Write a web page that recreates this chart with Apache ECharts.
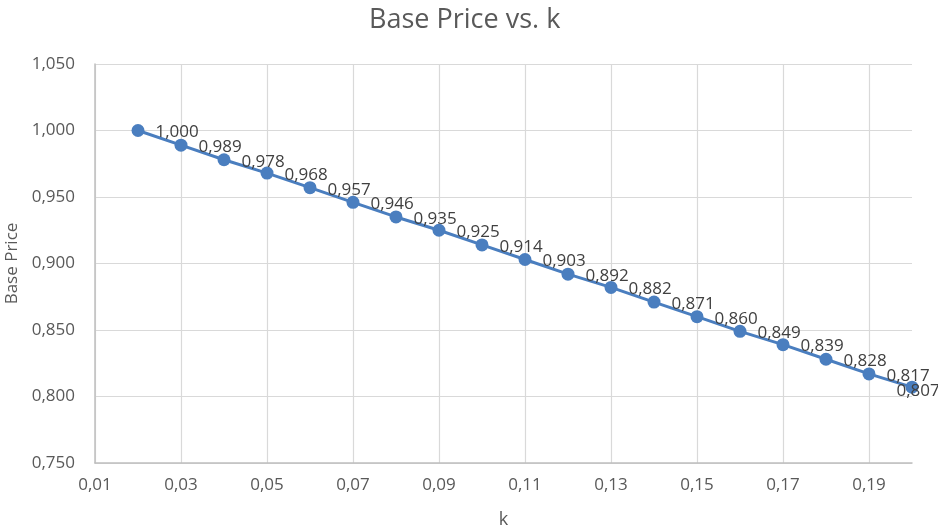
<!DOCTYPE html>
<html><head><meta charset="utf-8">
<script src="https://cdn.jsdelivr.net/npm/echarts@6/dist/echarts.min.js"></script>
<style>html,body{margin:0;padding:0;background:#fff}#c{width:938px;height:532px}</style>
</head><body><div id="c"></div>
<script>
var kValues = [0.02,0.03,0.04,0.05,0.06,0.07,0.08,0.09,0.10,0.11,0.12,0.13,0.14,0.15,0.16,0.17,0.18,0.19,0.20];
var basePrice = [1.000,0.989,0.978,0.968,0.957,0.946,0.935,0.925,0.914,0.903,0.892,0.882,0.871,0.860,0.849,0.839,0.828,0.817,0.807];
var xTicks = [0.01,0.03,0.05,0.07,0.09,0.11,0.13,0.15,0.17,0.19];

var font = '"Open Sans", "Noto Sans", sans-serif';
var data = kValues.map(function(k,i){
  var d = {value:[k, basePrice[i]]};
  if (i === kValues.length - 1) d.label = {offset:[-33, 4]};
  return d;
});
var chart = echarts.init(document.getElementById('c'));
chart.setOption({
  animation:false,
  backgroundColor:'#fff',
  title:{text:'Base Price vs. k',left:364,top:2,textStyle:{fontFamily:font,fontSize:27,fontWeight:'normal',color:'#595959'}},
  grid:{left:95,right:26,top:64,bottom:69,outerBoundsMode:'none',containLabel:false},
  xAxis:{type:'value',min:0.01,max:0.20,
    name:'k',nameLocation:'middle',nameGap:48,nameTextStyle:{fontFamily:font,fontSize:18,color:'#595959'},
    axisLine:{show:true,lineStyle:{color:'#bfbfbf',width:1.5}},
    axisTick:{show:false,customValues:xTicks},
    axisLabel:{customValues:xTicks,fontFamily:font,fontSize:17,color:'#595959',margin:14,formatter:function(v){return v.toFixed(2).replace('.',',');}},
    splitLine:{show:true,lineStyle:{color:'#d9d9d9',width:1.2}}
  },
  yAxis:{type:'value',min:0.75,max:1.05,interval:0.05,
    name:'Base Price',nameLocation:'middle',nameGap:74,nameTextStyle:{fontFamily:font,fontSize:17,color:'#595959'},
    axisLine:{show:true,lineStyle:{color:'#bfbfbf',width:1.5}},
    axisTick:{show:false},
    axisLabel:{fontFamily:font,fontSize:17,color:'#595959',margin:20,formatter:function(v){return v.toFixed(3).replace('.',',');}},
    splitLine:{show:true,lineStyle:{color:'#d9d9d9',width:1.2}}
  },
  series:[{type:'line',data:data,symbol:'circle',symbolSize:13,clip:false,
    itemStyle:{color:'#4a7ebf'},lineStyle:{color:'#4a7ebf',width:3},
    label:{show:true,position:'right',distance:11,offset:[0,2],fontFamily:font,fontSize:17,color:'#404040',
      formatter:function(p){return p.value[1].toFixed(3).replace('.',',');}}
  }]
});
</script></body></html>
